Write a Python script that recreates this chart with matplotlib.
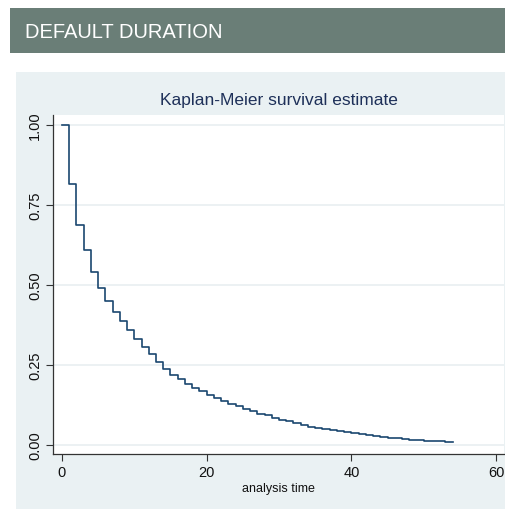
import matplotlib
matplotlib.use("Agg")
import matplotlib.pyplot as plt
from matplotlib.patches import Rectangle

# Data: Kaplan-Meier survival estimate by analysis time
times = list(range(0, 55))
survival = [1.000, 0.815, 0.686, 0.609, 0.540, 0.489, 0.449, 0.415, 0.385, 0.358,
            0.331, 0.306, 0.282, 0.257, 0.236, 0.219, 0.204, 0.190, 0.177, 0.166,
            0.155, 0.145, 0.136, 0.128, 0.120, 0.112, 0.104, 0.097, 0.091, 0.084,
            0.078, 0.072, 0.066, 0.061, 0.056, 0.052, 0.049, 0.045, 0.042, 0.039,
            0.036, 0.033, 0.030, 0.027, 0.024, 0.021, 0.019, 0.017, 0.015, 0.013,
            0.012, 0.011, 0.010, 0.009, 0.008]
x_ticks = [0, 20, 40, 60]
y_ticks = [0.00, 0.25, 0.50, 0.75, 1.00]
y_tick_labels = ["0.00", "0.25", "0.50", "0.75", "1.00"]
header = "DEFAULT DURATION"
title = "Kaplan-Meier survival estimate"
xlabel = "analysis time"

plt.rcParams['font.family'] = ['Liberation Sans', 'DejaVu Sans']

W, H = 506, 510
fig = plt.figure(figsize=(W / 100, H / 100), dpi=100)
fig.patch.set_facecolor("white")

def fx(px):
    return px / W

def fy(py):
    return 1 - py / H

# Header banner
fig.add_artist(Rectangle((fx(10), fy(54)), fx(506) - fx(10), fy(9) - fy(54),
                         transform=fig.transFigure, facecolor="#6a7e77",
                         edgecolor="none", zorder=-5))
fig.text(fx(25), fy(32), header, color="white", fontsize=14.5,
         ha="left", va="center", zorder=5)

# Graph region panel
panel_color = "#eaf1f3"
fig.add_artist(Rectangle((fx(16), fy(510)), fx(506) - fx(16), fy(73) - fy(510),
                         transform=fig.transFigure, facecolor=panel_color,
                         edgecolor="none", zorder=-5))

ax = fig.add_axes([fx(53), fy(455), fx(504) - fx(53), fy(115.7) - fy(455)])
ax.set_zorder(2)
ax.set_facecolor("white")

ax.plot(times, survival, drawstyle="steps-post", color="#1a476f", lw=1.2, zorder=3)

ax.set_xlim(-1.24, 61.1)
ax.set_ylim(-0.0297, 1.032)

ax.set_xticks(x_ticks)
ax.set_yticks(y_ticks)
ax.set_yticklabels(y_tick_labels, rotation=90, va="center")
ax.tick_params(axis="both", direction="out", length=5, width=0.8, color="#333333",
               labelsize=10.5, labelcolor="#111111")
ax.tick_params(axis="x", pad=3)
ax.tick_params(axis="y", pad=3)

ax.grid(axis="y", color="#eaf0f2", lw=1.3, zorder=1)
ax.grid(axis="x", visible=False)

for s in ["top", "right"]:
    ax.spines[s].set_visible(False)
for s in ["left", "bottom"]:
    ax.spines[s].set_color("#333333")
    ax.spines[s].set_linewidth(0.9)

fig.text(fx(279), fy(101), title, color="#1e3059", fontsize=12.5,
         ha="center", va="center", zorder=5)
ax.set_xlabel(xlabel, fontsize=9, color="#111111", labelpad=2)

fig.savefig("out.png", dpi=100, facecolor=fig.get_facecolor())
